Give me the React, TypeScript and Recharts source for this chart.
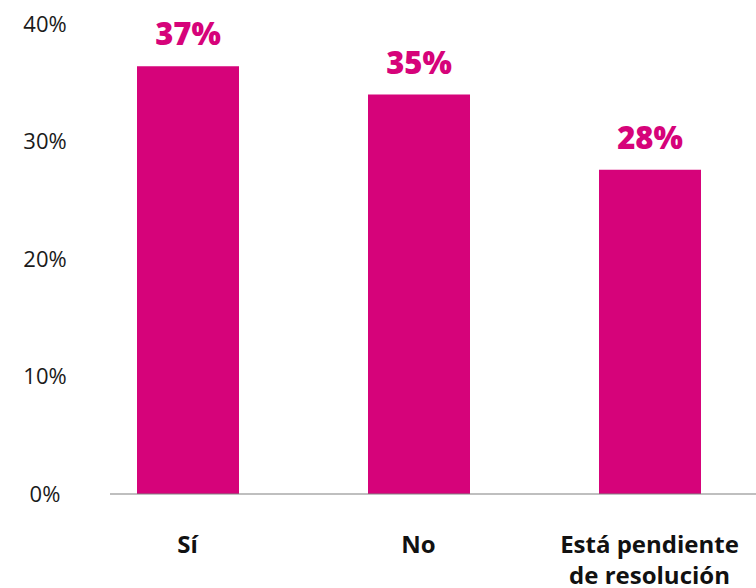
import React from "react";
import { BarChart, Bar, XAxis, YAxis, LabelList } from "recharts";

const categories = ["Sí", "No", "Está pendiente\nde resolución"];
const values = [36.4, 34.0, 27.6];
const valueLabels = ["37%", "35%", "28%"];
const yTicks = [0, 10, 20, 30, 40];

const data = categories.map((c, i) => ({ name: c, value: values[i], label: valueLabels[i] }));

const MAGENTA = "#D6037A";
const FONT = "'Open Sans', sans-serif";

const YTick = (props: any) => {
  const { y, payload } = props;
  return (
    <text x={45} y={y} dy="0.36em" textAnchor="middle" fontFamily={FONT} fontSize={22} fill="#1a1a1a">
      {payload.value}%
    </text>
  );
};

const XTick = (props: any) => {
  const { x, y, payload } = props;
  const lines = String(payload.value).split("\n");
  return (
    <text x={x} y={y} textAnchor="middle" fontFamily={FONT} fontSize={24} fontWeight={700} fill="#111">
      {lines.map((l, i) => (
        <tspan key={i} x={x} dy={i === 0 ? 59 : 31}>
          {l}
        </tspan>
      ))}
    </text>
  );
};

const BarLabel = (props: any) => {
  const { x, y, width, index } = props;
  return (
    <text
      x={x + width / 2}
      y={y - 21}
      textAnchor="middle"
      fontFamily={FONT}
      fontSize={31}
      fontWeight={800}
      fill={MAGENTA}
    >
      {valueLabels[index]}
    </text>
  );
};

export default function App() {
  return (
    <div style={{ position: "absolute", left: 0, top: 0, width: 756, height: 588, background: "#fff" }}>
      <BarChart width={756} height={588} data={data} margin={{ top: 24, right: 0, left: 0, bottom: 0 }} barCategoryGap={0}>
        <XAxis
          dataKey="name"
          height={94}
          tickLine={false}
          tickSize={0}
          tickMargin={0}
          axisLine={{ stroke: "#808080", strokeWidth: 1.2 }}
          tick={<XTick />}
          padding={{ left: -38, right: -9 }}
          interval={0}
        />
        <YAxis
          width={110}
          domain={[0, 40]}
          ticks={yTicks}
          axisLine={false}
          tickLine={false}
          tick={<YTick />}
          interval={0}
        />
        <Bar dataKey="value" fill={MAGENTA} barSize={102} isAnimationActive={false}>
          <LabelList dataKey="label" content={<BarLabel />} />
        </Bar>
      </BarChart>
    </div>
  );
}
